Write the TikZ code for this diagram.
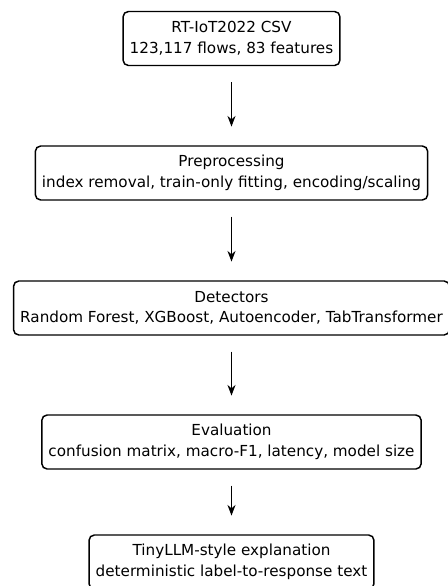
\documentclass[tikz,border=0pt]{standalone}
\usepackage{fontspec}
\setmainfont{DejaVu Sans}
\usepackage{tikz}
\usetikzlibrary{positioning}
\usetikzlibrary{arrows.meta}
\tikzstyle{stage} = [rectangle, rounded corners=4pt, draw=black, line width=1.1pt, fill=white, minimum height=40.5pt, inner xsep=5pt, align=center, font=\fontsize{11.4}{15.5}\selectfont]
\tikzstyle{arrow} = [line width=1.1pt, -{Stealth[length=8pt,width=6pt]}, shorten <=12pt, shorten >=14pt]

\begin{document}
\begin{tikzpicture}[x=0.75pt,y=-0.75pt]
        \useasboundingbox (0,0) rectangle (447,586);
        \node[stage] (csv) at (231.5,38.5) {RT-IoT2022 CSV\\123,117 flows, 83 features};
        \node[stage] (prep) at (231.5,173) {Preprocessing\\index removal, train-only fitting, encoding/scaling};
        \node[stage] (det) at (231.5,308) {Detectors\\Random Forest, XGBoost, Autoencoder, TabTransformer};
        \node[stage] (eval) at (231.5,442) {Evaluation\\confusion matrix, macro-F1, latency, model size};
        \node[stage] (llm) at (231.5,562) {TinyLLM-style explanation\\deterministic label-to-response text};

        \path[arrow] (csv) edge (prep);
        \path[arrow] (prep) edge (det);
        \path[arrow] (det) edge (eval);
        \path[arrow] (eval) edge (llm);
    \end{tikzpicture}
\end{document}
